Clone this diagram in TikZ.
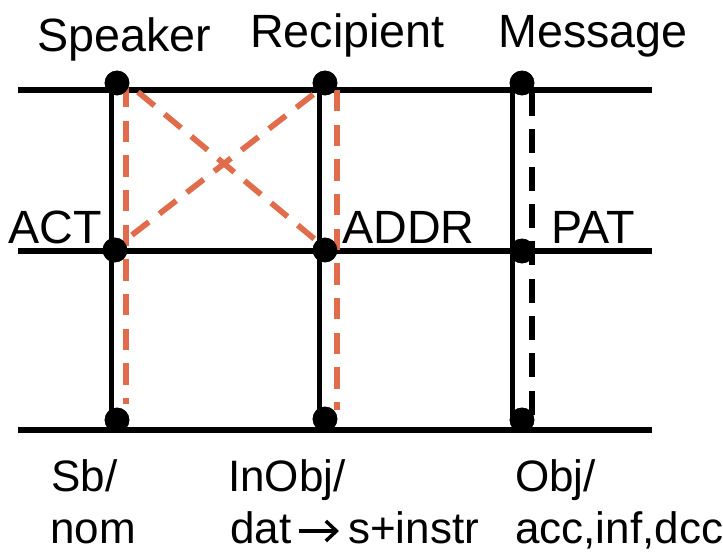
\documentclass[tikz,border=0pt]{standalone}
\usepackage{fontspec}
\setmainfont{Liberation Sans}
\usetikzlibrary{arrows.meta}
\begin{document}
\begin{tikzpicture}[x=0.75pt,y=-0.75pt,
  rail/.style={line width=3.8pt,black},
  tie/.style={line width=3.8pt,black},
  crossdash/.style={line width=4.3pt,color=linkorange,dash pattern=on 16pt off 10pt},
  blackdash/.style={line width=3.8pt,black,dash pattern=on 18pt off 10pt},
  dot/.style={circle,fill=black,inner sep=0pt,minimum size=18.5pt},
  lbl/.style={inner sep=0pt,anchor=base west,font=\fontsize{35pt}{40pt}\selectfont},
  sublbl/.style={inner sep=0pt,anchor=base west,font=\fontsize{33pt}{38pt}\selectfont},
  shiftarrow/.style={line width=2.6pt,-{Straight Barb[length=8pt,width=15pt,line width=2.6pt]}}]
\definecolor{linkorange}{RGB}{224,108,76}
\useasboundingbox (0,0) rectangle (723,552);

% rail end points
\coordinate (l1) at (18,90);  \coordinate (r1) at (652,90);
\coordinate (l2) at (18,251); \coordinate (r2) at (652,251);
\coordinate (l3) at (18,430); \coordinate (r3) at (652,430);

% junction dots
\node[dot] (sT) at (117,83) {};
\node[dot] (sM) at (115,250) {};
\node[dot] (sB) at (117,420) {};
\node[dot] (rT) at (325,83) {};
\node[dot] (rM) at (325,250) {};
\node[dot] (rB) at (325,419) {};
\node[dot] (mT) at (522,83) {};
\node[dot] (mM) at (522,251) {};
\node[dot] (mB) at (522,420) {};

% dashed end points
\coordinate (sdT) at (126,86);  \coordinate (sdB) at (126,404);
\coordinate (rdT) at (337,90);  \coordinate (rdB) at (337,410);
\coordinate (mdT) at (532,92);  \coordinate (mdB) at (532,420);

% horizontal rails
\draw[rail] (l1) -- (r1);
\draw[rail] (l2) -- (r2);
\draw[rail] (l3) -- (r3);

% solid vertical ties
\draw[tie] ([xshift=-4]sT.center) -- ([xshift=-4]sB.center);
\draw[tie] ([xshift=-4]rT.center) -- ([xshift=-4]rB.center);
\draw[tie] ([xshift=-7]mT.center) -- ([xshift=-7]mB.center);

% dashed links
\draw[crossdash] (sdT) -- (sdB);
\draw[crossdash] (rdT) -- (rdB);
\draw[crossdash] ([shift={(21,9)}]sT.center) -- ([shift={(-7,-8)}]rM.center);
\draw[crossdash] ([shift={(17,-15)}]sM.center) -- ([shift={(-6,7)}]rT.center);
\draw[blackdash] (mdT) -- (mdB);

% dots on top
\foreach \d in {sT,sM,sB,rT,rM,rB,mT,mM,mB}
  \fill (\d.center) circle (9.25pt);

% labels
\node[lbl] (tSpk) at (37,52) {Speaker};
\node[lbl] (tRec) at (250,48) {Recipient};
\node[lbl] (tMsg) at (498,48) {Message};
\node[lbl] (tAct) at (8,243) {ACT};
\node[lbl] (tAdd) at (342,243) {ADDR};
\node[lbl] (tPat) at (551,243) {PAT};
\node[sublbl] (tSb) at (51,491) {Sb/};
\node[sublbl] (tNom) at (50,543) {nom};
\node[sublbl] (tIn) at (228,491) {InObj/};
\node[sublbl] (tDat) at (230,543) {dat};
\node[sublbl] (tInstr) at (348,543) {s+instr};
\node[sublbl] (tObj) at (515,491) {Obj/};
\node[sublbl] (tAcc) at (515,543) {acc,inf,dcc};

% dat -> s+instr
\path (tDat.base east) ++(7,-12) coordinate (arrS);
\path (tInstr.base west) ++(-9,-12) coordinate (arrE);
\draw[shiftarrow] (arrS) -- (arrE);
\end{tikzpicture}
\end{document}
